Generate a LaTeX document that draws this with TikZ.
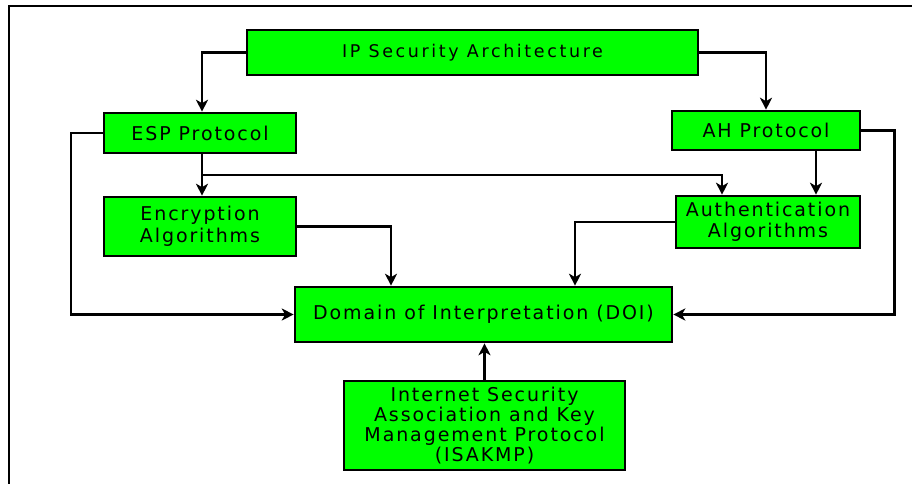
\documentclass[tikz,border=0pt]{standalone}
\usepackage{fontspec}
\setmainfont{DejaVu Sans}[LetterSpace=10]
\newfontfamily\titlefont{DejaVu Sans}[LetterSpace=15]
\usetikzlibrary{arrows.meta}
\begin{document}
\begin{tikzpicture}[x=1pt,y=-1pt,
  box/.style={draw=black,line width=2.6pt,fill=green,inner sep=0pt,font=\fontsize{19}{21.5}\selectfont,align=center},
  conn/.style={line width=2.4pt,-{Stealth[length=12pt,width=12pt,inset=3.5pt]}}]
\useasboundingbox (0,0) rectangle (912,484);
\draw[line width=2.4pt] (9,484) -- (9,6) -- (912,6);
\node[box,minimum width=451pt,minimum height=45pt,font=\titlefont\fontsize{17.5}{20}\selectfont] (ip) at (472.5,52.5) {IP Security Architecture};
\node[box,minimum width=192pt,minimum height=40pt] (esp) at (200,133) {ESP Protocol};
\node[box,minimum width=188pt,minimum height=39pt] (ah) at (766,130.5) {AH Protocol};
\node[box,minimum width=192pt,minimum height=59pt] (enc) at (200,226.5) {Encryption\\Algorithms};
\node[box,minimum width=184pt,minimum height=52pt] (auth) at (768,222) {Authentication\\Algorithms};
\node[box,minimum width=377pt,minimum height=55pt] (doi) at (483.5,314.5) {Domain of Interpretation (DOI)};
\node[box,minimum width=281pt,minimum height=89pt,font=\fontsize{19}{20}\selectfont] (isa) at (484.5,425.5) {Internet Security\\Association and Key\\Management Protocol\\(ISAKMP)};
\coordinate (br) at (202,175);
\draw[conn] (ip.west) -| (esp.north -| 202,0);
\draw[conn] (ip.east) -| (ah.north);
\draw[conn] (esp.west) -- ++(-32,0) |- (doi.west);
\draw[conn] (ah.east) -- ++(33,0) |- (doi.east);
\draw[conn] (esp.south -| br) -- (enc.north -| br);
\draw[conn] (br) -| (auth.north -| 722,0);
\draw[conn] (ah.south -| 816,0) -- (auth.north -| 816,0);
\draw[conn] (enc.east) -| (doi.north -| 391,0);
\draw[conn] (auth.west) -| (doi.north -| 575,0);
\draw[conn] (isa.north) -- (doi.south -| isa.north);
\end{tikzpicture}
\end{document}
